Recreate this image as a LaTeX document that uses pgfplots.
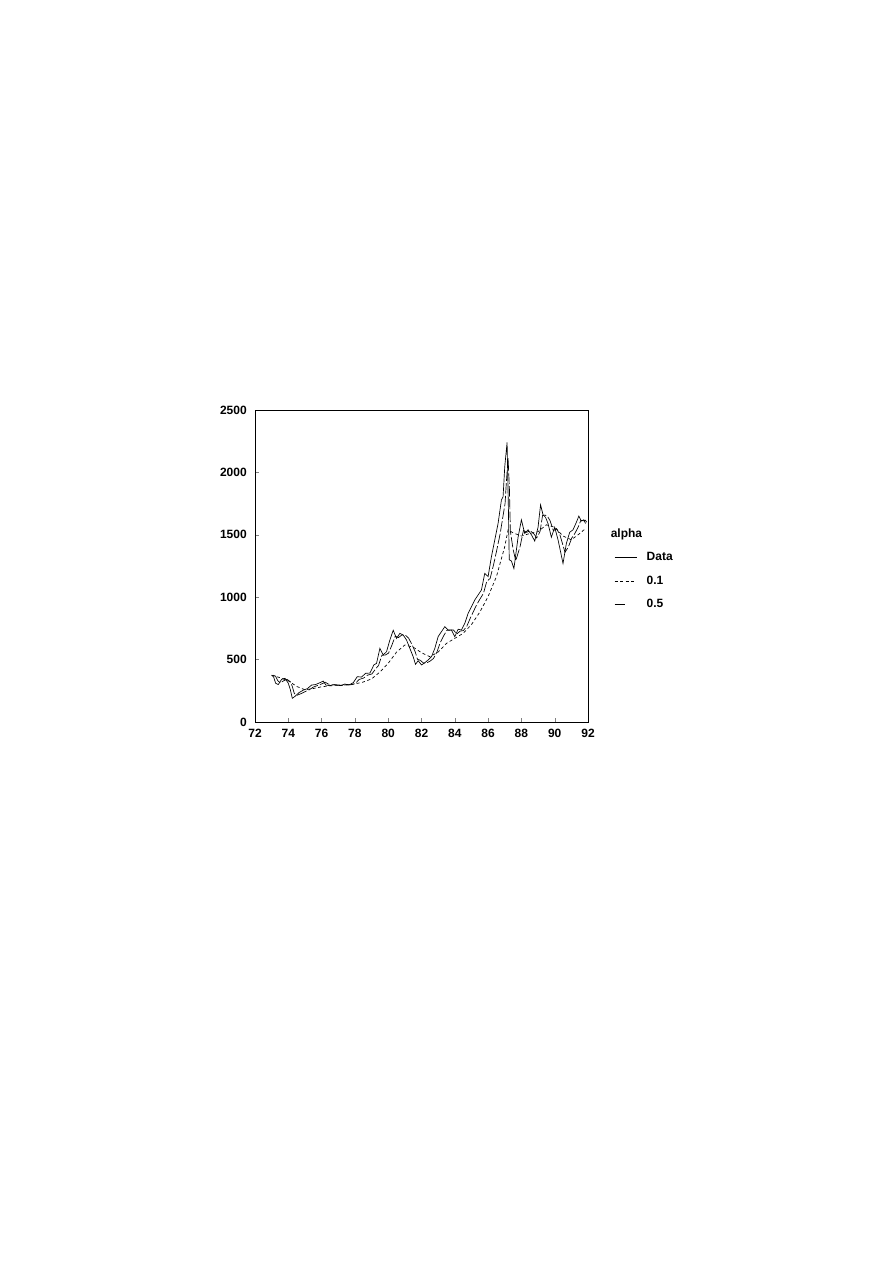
\documentclass[border=0pt]{standalone}
\usepackage{fontspec}
\setmainfont{Liberation Sans}
\usepackage{pgfplots}
\usepackage{pgfplotstable}
\pgfplotsset{compat=1.18}

% share index, monthly-ish readings
\pgfplotstableread{
t v
73.0 375
73.12 360
73.24 310
73.4 300
73.6 342
73.8 350
74.0 310
74.12 260
74.24 190
74.4 205
74.64 235
74.9 255
75.14 267
75.4 296
75.64 300
75.9 315
76.1 328
76.26 296
76.5 291
76.7 299
76.9 296
77.14 291
77.4 304
77.64 296
77.9 315
78.14 363
78.4 360
78.64 390
78.9 392
79.14 457
79.3 470
79.5 590
79.7 537
79.9 563
80.1 657
80.3 735
80.5 670
80.7 710
80.9 697
81.1 657
81.3 590
81.5 523
81.64 462
81.8 491
82.0 457
82.2 475
82.4 497
82.6 523
82.8 590
83.0 684
83.2 724
83.4 764
83.6 737
83.8 737
84.0 684
84.2 743
84.4 737
84.6 790
84.8 871
85.0 924
85.2 978
85.4 1018
85.6 1058
85.8 1191
86.0 1165
86.2 1325
86.4 1458
86.6 1592
86.8 1779
86.9 1806
87.0 2046
87.14 2240
87.22 1700
87.27 1300
87.4 1290
87.55 1230
87.8 1480
88.0 1620
88.2 1510
88.4 1540
88.6 1500
88.8 1450
89.0 1560
89.15 1740
89.3 1660
89.45 1640
89.6 1590
89.8 1480
90.0 1560
90.2 1460
90.5 1270
90.7 1430
90.9 1520
91.1 1540
91.3 1600
91.45 1650
91.6 1610
91.75 1620
91.85 1590
}\data

% alpha = 0.5
\pgfplotstableread{
t v
73.1 375
73.24 366
73.36 332
73.52 313
73.72 330
73.92 342
74.12 323
74.24 285
74.36 228
74.52 214
74.76 227
75.02 244
75.26 258
75.52 281
75.76 292
76.02 306
76.22 319
76.38 305
76.62 297
76.82 298
77.02 297
77.26 293
77.52 300
77.76 298
78.02 308
78.26 341
78.52 352
78.76 375
79.02 385
79.26 428
79.42 453
79.62 535
79.82 536
80.02 552
80.22 615
80.42 687
80.62 677
80.82 697
81.02 697
81.22 673
81.42 623
81.62 563
81.76 502
81.92 495
82.12 472
82.32 474
82.52 488
82.72 509
82.92 558
83.12 634
83.32 688
83.52 734
83.72 736
83.92 737
84.12 705
84.32 728
84.52 733
84.72 767
84.92 829
85.12 886
85.32 941
85.52 987
85.72 1030
85.92 1127
86.12 1150
86.32 1255
86.52 1377
86.72 1506
86.92 1670
87.02 1752
87.1 1928
87.2 2115
87.28 1866
87.34 1526
87.5 1384
87.66 1292
87.92 1405
88.12 1534
88.32 1520
88.52 1532
88.72 1513
88.92 1475
89.12 1526
89.27 1654
89.42 1658
89.57 1647
89.72 1613
89.92 1533
90.12 1549
90.32 1496
90.62 1360
90.82 1402
91.02 1473
91.22 1513
91.42 1565
91.57 1616
91.72 1612
91.84 1617
91.92 1601
}\halfs

% alpha = 0.1
\pgfplotstableread{
t v
73.0 375
73.5 355
74.0 330
74.5 285
75.0 258
75.5 268
76.0 282
76.5 290
77.0 292
77.5 296
78.0 305
78.5 320
79.0 345
79.5 400
80.0 470
80.5 560
81.0 617
81.5 600
82.0 555
82.5 523
83.0 560
83.5 630
84.0 670
84.5 710
85.0 780
85.5 880
86.0 1005
86.5 1165
87.0 1405
87.2 1540
87.5 1515
88.0 1490
88.5 1510
89.0 1525
89.5 1580
90.0 1560
90.5 1490
91.0 1460
91.5 1510
91.85 1550
}\tenth

\begin{document}
\begin{tikzpicture}
\path[use as bounding box] (0,0) rectangle (595.33pt,842pt);
\begin{axis}[
    at={(170pt,360.67pt)}, anchor=south west,
    scale only axis,
    width=222pt, height=208pt,
    xmin=72, xmax=92, ymin=0, ymax=2500,
    xtick={72,74,...,92},
    ytick={0,500,...,2500},
    tick align=inside, tick pos=left,
    major tick length=2.7pt,
    axis line style={line width=0.6pt},
    /pgf/number format/assume math mode=true,
    /pgf/number format/1000 sep={},
    ticklabel style={font=\bfseries\fontsize{8}{9}\selectfont},
    yticklabel style={xshift=-2pt},
    xticklabel style={yshift=-1pt},
    legend style={at={(1.078,0.63)}, anchor=north west, draw=none, fill=none,
        font=\bfseries\fontsize{8}{9}\selectfont, row sep=4.5pt,
        inner sep=0pt, legend cell align=left},
    legend image code/.code={\draw[#1] (0pt,0pt) -- (14.7pt,0pt);
        \path[draw=none] (0pt,0pt) -- (19.4pt,0pt);},
]
\addlegendimage{empty legend}
\addlegendentry{\hspace{-24pt}alpha}
\addplot[black, line width=0.45pt] table[x=t, y=v] {\data};
\addlegendentry{Data}
\addplot[black, line width=0.45pt, dash pattern=on 2pt off 1.7pt] table[x=t, y=v] {\tenth};
\addlegendentry{0.1}
\addplot[black, line width=0.45pt, dash pattern=on 7pt off 1.5pt,
    legend image code/.code={\draw[black, solid, line width=0.45pt] (0pt,0pt) -- (7pt,0pt);
        \path[draw=none] (0pt,0pt) -- (19.4pt,0pt);}]
    table[x=t, y=v] {\halfs};
\addlegendentry{0.5}
\end{axis}
\end{tikzpicture}
\end{document}
